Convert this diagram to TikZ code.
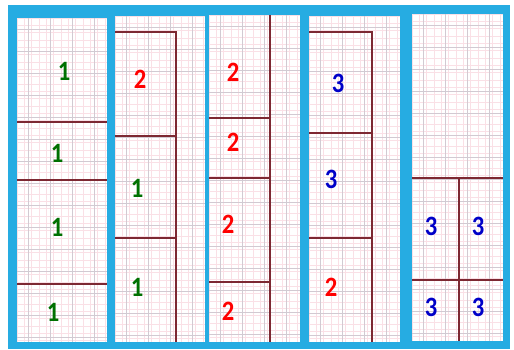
\documentclass[tikz,border=0pt]{standalone}
\usepackage{fontspec}
\setmainfont{Carlito}
\definecolor{framebl}{RGB}{38,172,226}
\definecolor{gridpink}{RGB}{250,224,230}
\definecolor{gridgrey}{RGB}{210,202,210}
\definecolor{cutred}{RGB}{125,40,50}
\definecolor{numgreen}{RGB}{0,112,0}
\definecolor{numred}{RGB}{255,0,0}
\definecolor{numblue}{RGB}{0,0,200}
\tikzset{
  strip/.style={fill=white,draw=none},
  cut/.style={draw=cutred,line width=1.5pt},
  num/.style={font=\fontsize{28}{28}\selectfont\bfseries,inner sep=0pt,anchor=center,xscale=0.88},
  g1/.style={num,text=numgreen},
  r2/.style={num,text=numred},
  b3/.style={num,text=numblue},
}
\newcommand{\papergrid}[4]{%
  \begin{scope}
    \clip (#1,#2) rectangle (#3,#4);
    \foreach \u in {0,7.33,...,100}{
      \draw[gridpink,line width=0.5pt] ({#1+\u},#2) -- ({#1+\u},#4);}
    \foreach \v in {0,7.33,...,330}{
      \draw[gridpink,line width=0.5pt] (#1,{#2+\v}) -- (#3,{#2+\v});}
    \foreach \u in {11,33,...,100}{
      \draw[gridgrey,line width=0.5pt] ({#1+\u},#2) -- ({#1+\u},#4);}
    \foreach \v in {11,33,...,330}{
      \draw[gridgrey,line width=0.5pt] (#1,{#2+\v}) -- (#3,{#2+\v});}
  \end{scope}}
\begin{document}
\begin{tikzpicture}[x=1pt,y=-1pt]
\useasboundingbox (0,0) rectangle (514,349);
\fill[white] (0,0) rectangle (514,349);
\fill[framebl] (8,5) rectangle (510,349);
% strips
\fill[strip] (17,18) rectangle (107,342);
\fill[strip] (115,16) rectangle (205,342);
\fill[strip] (209,15) rectangle (300,342);
\fill[strip] (309,16) rectangle (400,342);
\fill[strip] (412,14) rectangle (503,341);
\papergrid{17}{18}{107}{342}
\papergrid{115}{16}{205}{342}
\papergrid{209}{15}{300}{342}
\papergrid{309}{16}{400}{342}
\papergrid{412}{14}{503}{341}
% strip 1
\draw[cut] (17,122) -- (107,122);
\draw[cut] (17,180) -- (107,180);
\draw[cut] (17,284) -- (107,284);
% strip 2
\draw[cut] (115,32) -- (176,32) -- (176,342);
\draw[cut] (115,136) -- (176,136);
\draw[cut] (115,238) -- (176,238);
% strip 3
\draw[cut] (270,15) -- (270,342);
\draw[cut] (209,118) -- (270,118);
\draw[cut] (209,178) -- (270,178);
\draw[cut] (209,282) -- (270,282);
% strip 4
\draw[cut] (309,32) -- (372,32) -- (372,342);
\draw[cut] (309,133) -- (372,133);
\draw[cut] (309,238) -- (372,238);
% strip 5
\draw[cut] (412,178) -- (503,178);
\draw[cut] (412,280) -- (503,280);
\draw[cut] (459,178) -- (459,341);
% numbers
\node[g1] (a1) at (64,71) {1};
\node[g1] (a2) at (57,153) {1};
\node[g1] (a3) at (57,227) {1};
\node[g1] (a4) at (53,312) {1};
\node[r2] (b1) at (140,79) {2};
\node[g1] (b2) at (137,188) {1};
\node[g1] (b3) at (137,287) {1};
\node[r2] (c1) at (233,72) {2};
\node[r2] (c2) at (233,142) {2};
\node[r2] (c3) at (228,224) {2};
\node[r2] (c4) at (228,311) {2};
\node[b3] (d1) at (338,83) {3};
\node[b3] (d2) at (331,179) {3};
\node[r2] (d3) at (331,287) {2};
\node[b3] (e1) at (431,226) {3};
\node[b3] (e2) at (478,226) {3};
\node[b3] (e3) at (431,307) {3};
\node[b3] (e4) at (478,307) {3};
\end{tikzpicture}
\end{document}
